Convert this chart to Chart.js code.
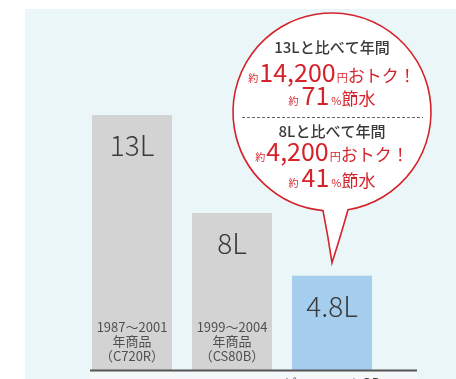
<!DOCTYPE html>
<html>
<head>
<meta charset="utf-8">
<script src="https://cdn.jsdelivr.net/npm/chart.js@4.4.1/dist/chart.umd.min.js"></script>
<style>
    html, body { margin: 0; padding: 0; background: #fff; }
    canvas { display: block; }
</style>
</head>
<body>
<canvas id="tankChart" width="456" height="379"></canvas>
<script>
// flush volume per model (litres)
const models = ["C720R", "CS80B", "ピュアレストQR"];
const volumes = [13, 8, 4.8];
const volumeLabels = ["13L", "8L", "4.8L"];
const yearLines = [
    ["1987～2001", "年商品", "（C720R）"],
    ["1999～2004", "年商品", "（CS80B）"],
    [],
];
const barColors = ["#d3d3d3", "#d3d3d3", "#a5cdee"];

// savings shown in the balloon
const compareLabels = ["13Lと比べて年間", "8Lと比べて年間"];
const yenSaved = ["14,200", "4,200"];
const waterSaved = ["71", "41"];

const FONT = "'Noto Sans CJK JP', 'Noto Sans', sans-serif";
const RED = "#d5232c";
const INK = "#3a3a3a";

// draws several differently sized pieces of text as one centred line
function drawRuns(ctx, runs, cx, baseline) {
    let total = 0;
    runs.forEach((r) => {
        ctx.font = (r.weight || 400) + " " + r.size + "px " + FONT;
        r.w = ctx.measureText(r.text).width;
        total += r.w + (r.gap || 0);
    });
    let x = cx - total / 2;
    ctx.textAlign = "left";
    ctx.textBaseline = "alphabetic";
    runs.forEach((r) => {
        ctx.font = (r.weight || 400) + " " + r.size + "px " + FONT;
        ctx.fillStyle = r.color;
        ctx.fillText(r.text, x, baseline);
        x += r.w + (r.gap || 0);
    });
}

const backdrop = {
    id: "backdrop",
    beforeDraw(chart) {
        const ctx = chart.ctx;
        ctx.save();
        ctx.fillStyle = "#ffffff";
        ctx.fillRect(0, 0, chart.width, chart.height);
        ctx.fillStyle = "#eaf6f8";
        ctx.fillRect(25, 9, chart.width - 25, chart.height - 9);
        ctx.restore();
    },
};

const barText = {
    id: "barText",
    afterDatasetsDraw(chart) {
        const ctx = chart.ctx;
        const bars = chart.getDatasetMeta(0).data;
        const base = chart.scales.y.getPixelForValue(0);
        ctx.save();

        bars.forEach((bar, i) => {
            ctx.textAlign = "center";
            ctx.textBaseline = "middle";
            ctx.fillStyle = INK;
            ctx.font = "300 28px " + FONT;
            ctx.fillText(volumeLabels[i], bar.x, bar.y + 30);

            ctx.fillStyle = "#505050";
            ctx.font = "400 13px " + FONT;
            const lines = yearLines[i];
            lines.forEach((line, j) => {
                ctx.fillText(line, bar.x, base - 14 - (lines.length - 1 - j) * 14.5);
            });
        });

        // pale strip and base line under the bars
        const left = chart.chartArea.left + 8;
        const right = chart.chartArea.right + 35;
        ctx.fillStyle = "#f5f8f8";
        ctx.fillRect(left, base + 1, right - left, chart.height - base);
        ctx.strokeStyle = "#555555";
        ctx.lineWidth = 2;
        ctx.beginPath();
        ctx.moveTo(left, base + 0.5);
        ctx.lineTo(right, base + 0.5);
        ctx.stroke();

        // model name below the newest bar
        const last = bars[bars.length - 1];
        ctx.fillStyle = INK;
        ctx.font = "400 13px " + FONT;
        ctx.textBaseline = "top";
        ctx.fillText(models[models.length - 1], last.x, base + 7);
        ctx.restore();
    },
};

const balloon = {
    id: "balloon",
    afterDatasetsDraw(chart) {
        const ctx = chart.ctx;
        const bars = chart.getDatasetMeta(0).data;
        const last = bars[bars.length - 1];
        const cx = last.x;
        const cy = 112;
        const r = 99;
        const tipX = last.x;
        const tipY = last.y - 13;
        const aLeft = Math.atan2(98.6, -9);
        const aRight = Math.atan2(97.7, 16);
        const lx = cx + r * Math.cos(aLeft);
        const ly = cy + r * Math.sin(aLeft);
        const rx = cx + r * Math.cos(aRight);
        const ry = cy + r * Math.sin(aRight);

        ctx.save();
        ctx.beginPath();
        ctx.moveTo(rx, ry);
        ctx.arc(cx, cy, r, aRight, aLeft, true);
        ctx.quadraticCurveTo(lx + 5, ly + 25, tipX, tipY);
        ctx.quadraticCurveTo(rx - 7, ry + 25, rx, ry);
        ctx.closePath();
        ctx.fillStyle = "#ffffff";
        ctx.fill();
        ctx.strokeStyle = RED;
        ctx.lineWidth = 1.6;
        ctx.stroke();

        const baselines = [[53, 82, 105], [137, 161, 187]];
        compareLabels.forEach((label, i) => {
            const b = baselines[i];
            drawRuns(ctx, [{ text: label, size: 15, color: INK, weight: 500 }], cx, b[0]);
            drawRuns(ctx, [
                { text: "約", size: 10, color: RED, gap: 1 },
                { text: yenSaved[i], size: 25, color: RED, gap: 1 },
                { text: "円", size: 11, color: RED },
                { text: "おトク！", size: 17, color: RED },
            ], cx, b[1]);
            drawRuns(ctx, [
                { text: "約", size: 10, color: RED, gap: 3 },
                { text: waterSaved[i], size: 25, color: RED, gap: 2 },
                { text: "%", size: 11, color: RED },
                { text: "節水", size: 17, color: RED },
            ], cx, b[2]);
        });

        ctx.strokeStyle = "#666666";
        ctx.lineWidth = 1;
        ctx.setLineDash([3, 2]);
        ctx.beginPath();
        ctx.moveTo(cx - 90, 117.5);
        ctx.lineTo(cx + 91, 117.5);
        ctx.stroke();
        ctx.restore();
    },
};

new Chart(document.getElementById("tankChart"), {
    type: "bar",
    data: {
        labels: models,
        datasets: [
            {
                data: volumes,
                backgroundColor: barColors,
                borderWidth: 0,
                barPercentage: 0.8,
                categoryPercentage: 1,
            },
        ],
    },
    options: {
        responsive: false,
        animation: false,
        layout: { padding: { left: 82, right: 74, top: 17, bottom: 9 } },
        plugins: {
            legend: { display: false },
            tooltip: { enabled: false },
        },
        scales: {
            x: { display: false },
            y: { display: false, min: 0, max: 18 },
        },
    },
    plugins: [backdrop, barText, balloon],
});
</script>
</body>
</html>
